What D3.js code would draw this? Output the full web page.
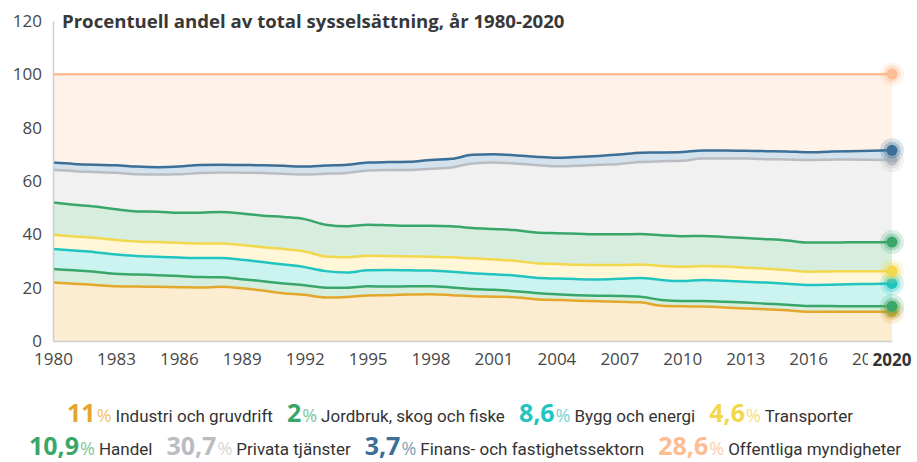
<!DOCTYPE html>
<html>
<head>
<meta charset="utf-8">
<script src="https://cdn.jsdelivr.net/npm/d3@7"></script>
<style>
  body { margin: 0; background: #fff; }
  svg { display: block; font-family: "Open Sans", sans-serif; }
</style>
</head>
<body>
<script>
// set up SVG
var w = 917;
var h = 462;

// plot box
var pdL = 53;
var pdR = 25;
var pdT = 21;
var pdB = 121;

// data: share of total employment (%), 1980-2020
var years = [1980,1981,1982,1983,1984,1985,1986,1987,1988,1989,
             1990,1991,1992,1993,1994,1995,1996,1997,1998,1999,
             2000,2001,2002,2003,2004,2005,2006,2007,2008,2009,
             2010,2011,2012,2013,2014,2015,2016,2017,2018,2019,2020];

var industri = [21.9,21.5,21.0,20.5,20.4,20.3,20.2,20.1,20.3,19.8,
                18.9,17.9,17.3,16.3,16.5,17.1,17.2,17.4,17.5,17.2,
                16.8,16.6,16.4,15.7,15.4,15.1,14.9,14.7,14.5,13.2,
                13.0,12.9,12.6,12.2,11.9,11.5,11.0,11.0,11.0,11.0,11.0];
var jordbruk = [5.1,5.0,5.0,4.7,4.5,4.4,4.2,3.9,3.6,3.4,
                3.5,3.7,3.6,3.7,3.5,3.4,3.2,3.1,3.0,2.9,
                2.7,2.6,2.3,2.3,2.1,2.1,2.1,2.2,2.1,2.2,
                2.0,2.1,2.1,2.2,2.1,2.1,2.1,2.1,2.0,2.0,2.0];
var bygg = [7.5,7.4,7.3,7.2,7.0,6.9,6.9,7.1,7.2,7.3,
            7.2,7.1,6.8,6.2,5.7,6.0,6.2,6.0,5.9,5.9,
            5.9,5.8,5.9,5.7,5.9,6.0,6.1,6.4,7.0,7.5,
            7.5,7.9,7.9,7.8,7.9,7.9,7.9,8.0,8.3,8.4,8.6];
var transporter = [5.3,5.3,5.4,5.5,5.4,5.5,5.5,5.5,5.5,5.5,
                   5.6,5.8,5.9,5.5,5.7,5.5,5.3,5.2,5.2,5.4,
                   5.6,5.6,5.5,5.5,5.5,5.4,5.4,5.2,5.1,5.2,
                   5.3,5.2,5.3,5.3,5.2,5.1,5.0,5.0,4.9,4.8,4.6];
var handel = [12.1,11.9,11.7,11.5,11.3,11.4,11.3,11.5,11.8,11.8,
              11.8,12.0,12.1,11.9,11.6,11.6,11.5,11.5,11.6,11.6,
              11.4,11.4,11.5,11.5,11.5,11.6,11.5,11.5,11.4,11.6,
              11.5,11.3,11.1,11.1,11.1,11.1,10.9,10.8,10.8,10.8,10.9];
var privata = [12.3,12.6,13.0,13.7,13.9,13.9,14.4,14.9,14.8,15.3,
               16.0,16.2,16.7,19.1,20.0,20.3,20.7,20.9,21.4,22.1,
               24.2,24.9,25.0,25.3,25.1,25.5,26.1,26.4,27.0,27.7,
               28.3,29.0,29.4,29.8,30.0,30.4,31.0,31.1,31.1,31.0,30.7];
var finans = [2.7,2.7,2.7,2.8,2.9,2.8,2.9,3.0,2.9,2.9,
              2.9,3.0,3.0,3.1,3.1,3.0,3.0,3.1,3.3,3.2,
              3.2,3.1,3.1,3.1,3.2,3.3,3.3,3.5,3.5,3.3,
              3.3,3.0,3.0,2.9,3.0,3.0,2.9,3.0,3.1,3.3,3.7];
var offentliga = [33.1,33.6,33.9,34.1,34.6,34.8,34.6,34.0,33.9,34.0,
                  34.1,34.3,34.6,34.2,33.9,33.1,32.9,32.8,32.1,31.7,
                  30.2,30.0,30.3,30.9,31.3,31.0,30.6,30.1,29.4,29.3,
                  29.1,28.6,28.6,28.7,28.8,28.9,29.2,29.0,28.8,28.7,28.6];

var xTicks = [1980,1983,1986,1989,1992,1995,1998,2001,2004,2007,2010,2013,2016,2019];
var yTicks = [0,20,40,60,80,100,120];

var keys = ["industri","jordbruk","bygg","transporter","handel","privata","finans","offentliga"];
var seriesVals = [industri, jordbruk, bygg, transporter, handel, privata, finans, offentliga];
var legendNames = ["Industri och gruvdrift","Jordbruk, skog och fiske","Bygg och energi","Transporter",
                   "Handel","Privata tjänster","Finans- och fastighetssektorn","Offentliga myndigheter"];
var legendNums = ["11","2","8,6","4,6","10,9","30,7","3,7","28,6"];

// colours per sector
var lineCol = ["#e3a82b","#3aa76a","#22c4c0","#f3d74c","#3aa76a","#b9bdc2","#3b6f97","#fdbc92"];
var fillCol = ["#fcecd0","#d5eedd","#cbf4f1","#fff7d8","#d7eedf","#f1f1f1","#d3e2ec","#fef2e9"];
var pctCol  = ["#f0c46e","#7fc79a","#6fd8d5","#f7e07e","#7fc79a","#d6d6d6","#7f9fbb","#fdcfae"];

// build rows for d3.stack
var rows = years.map(function(yr, i) {
    var r = { year: yr };
    keys.forEach(function(k, j) { r[k] = seriesVals[j][i]; });
    return r;
});
var stacked = d3.stack().keys(keys)(rows);

// scales
var scaleX = d3.scaleLinear().domain([1980, 2020]).range([pdL, w - pdR]);
var scaleY = d3.scaleLinear().domain([0, 120]).range([h - pdB, pdT]);

var svg = d3.select("body").append("svg")
            .attr("width", w)
            .attr("height", h);

// areas
var area = d3.area()
             .curve(d3.curveMonotoneX)
             .x(function(d) { return scaleX(d.data.year); })
             .y0(function(d) { return scaleY(d[0]); })
             .y1(function(d) { return scaleY(d[1]); });

var line = d3.line()
             .curve(d3.curveMonotoneX)
             .x(function(d) { return scaleX(d.data.year); })
             .y(function(d) { return scaleY(d[1]); });

svg.append("g").selectAll("path")
   .data(stacked)
   .enter().append("path")
   .attr("d", area)
   .attr("fill", function(d, i) { return fillCol[i]; });

svg.append("g").selectAll("path")
   .data(stacked)
   .enter().append("path")
   .attr("d", line)
   .attr("fill", "none")
   .attr("stroke", function(d, i) { return lineCol[i]; })
   .attr("stroke-width", 2.5)
   .attr("stroke-linejoin", "round");

// axes
var axisY = d3.axisLeft(scaleY).tickValues(yTicks).tickSize(0).tickPadding(11);
var axisX = d3.axisBottom(scaleX).tickValues(xTicks).tickFormat(d3.format("d")).tickSize(0).tickPadding(12);

var gy = svg.append("g")
   .attr("class", "axis_y")
   .attr("transform", "translate(" + pdL + ",0)")
   .call(axisY);
var gx = svg.append("g")
   .attr("class", "axis_x")
   .attr("transform", "translate(0," + (h - pdB) + ")")
   .call(axisX);

[gx, gy].forEach(function(g) {
    g.select(".domain").attr("stroke", "#cfcfcf").attr("stroke-width", 1.5);
    g.selectAll("text").attr("font-size", 17).attr("fill", "#474747")
     .attr("font-family", "'Open Sans', sans-serif");
});

// bold 2020 label over the last tick
var lastX = scaleX(2020);
svg.append("rect")
   .attr("x", lastX - 24).attr("y", h - pdB + 6)
   .attr("width", 48).attr("height", 22)
   .attr("fill", "#fff");
svg.append("text")
   .text("2020")
   .attr("x", lastX).attr("y", h - pdB + 24.5)
   .attr("text-anchor", "middle")
   .attr("font-size", 17).attr("font-weight", 700).attr("fill", "#333");

// end markers
var ends = stacked.map(function(s, i) {
    return { y: s[s.length - 1][1], i: i };
});
var mk = svg.append("g").selectAll("g")
   .data(ends).enter().append("g")
   .attr("transform", function(d) { return "translate(" + lastX + "," + scaleY(d.y) + ")"; });
mk.append("circle").attr("r", 12).attr("fill", function(d) { return lineCol[d.i]; }).attr("opacity", 0.18);
mk.append("circle").attr("r", 8.5).attr("fill", function(d) { return lineCol[d.i]; }).attr("opacity", 0.3);
mk.append("circle").attr("r", 5.5).attr("fill", function(d) { return lineCol[d.i]; });

// title
svg.append("text")
   .text("Procentuell andel av total sysselsättning, år 1980-2020")
   .attr("x", 62).attr("y", 28)
   .attr("font-size", 18.6).attr("font-weight", 700).attr("fill", "#383838");

// legend, two centred rows
var legendRows = [[0, 1, 2, 3], [4, 5, 6, 7]];
var rowY = [422, 455];
var rowMid = [460, 465];
var itemGap = 14;

legendRows.forEach(function(idxs, r) {
    var g = svg.append("g");
    var xPos = 0;
    idxs.forEach(function(i, n) {
        if (n > 0) xPos += itemGap;
        var t1 = g.append("text").text(legendNums[i])
            .attr("x", xPos).attr("y", rowY[r])
            .attr("font-size", 25).attr("font-weight", 700)
            .attr("fill", lineCol[i]);
        xPos += t1.node().getComputedTextLength() + 1;
        var t2 = g.append("text").text("%")
            .attr("x", xPos).attr("y", rowY[r])
            .attr("font-size", 18).attr("fill", pctCol[i]);
        xPos += t2.node().getComputedTextLength() + 4;
        var t3 = g.append("text").text(legendNames[i])
            .attr("x", xPos).attr("y", rowY[r])
            .attr("font-size", 17)
            .attr("font-family", "'Liberation Sans Narrow', 'Roboto', sans-serif")
            .attr("fill", "#333");
        xPos += t3.node().getComputedTextLength();
    });
    g.attr("transform", "translate(" + (rowMid[r] - xPos / 2) + ",0)");
});
</script>
</body>
</html>
